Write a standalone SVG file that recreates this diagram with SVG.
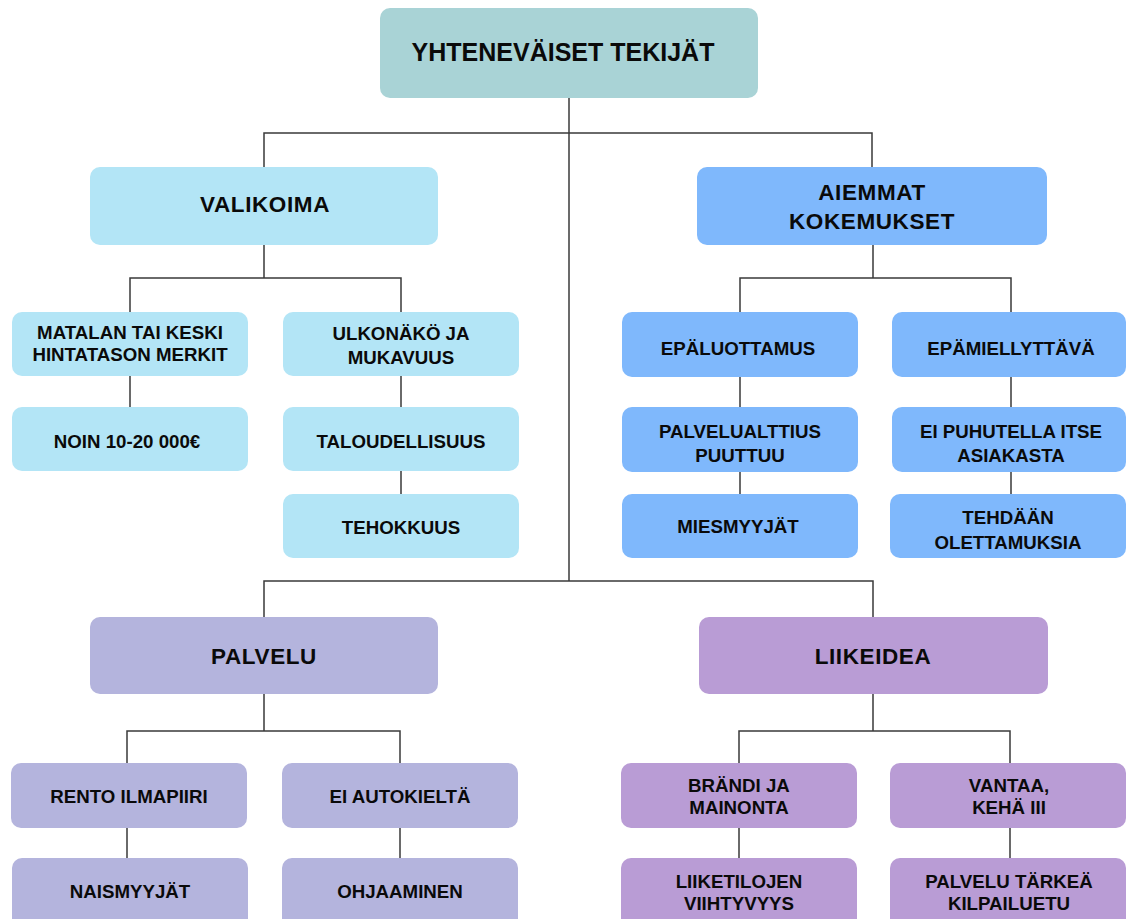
<svg xmlns="http://www.w3.org/2000/svg" width="1127" height="919" viewBox="0 0 1127 919">
  <style>
    .bg { fill: #ffffff; }
    .box { rx: 10; ry: 10; }
    .root { fill: #a9d3d6; }
    .cyan { fill: #b3e5f6; }
    .blue { fill: #7fb8fc; }
    .lav { fill: #b4b4dd; }
    .purp { fill: #b99cd5; }
    text { font-family: "Liberation Sans", Arial, sans-serif; font-weight: bold; fill: #0a0a0a; text-anchor: middle; dominant-baseline: central; }
    .t0 { font-size: 25px; }
    .t1 { font-size: 22.5px; letter-spacing: 0.6px; }
    .t2 { font-size: 18.7px; }
    .wire { fill: none; stroke: #3a3a3a; stroke-width: 1.5; }
  </style>
  <rect class="bg" x="0" y="0" width="1127" height="919"/>

  <!-- connectors -->
  <g id="connectors" class="wire">
    <path d="M569 98 V581"/>
    <path d="M264 167 V133 H872 V167"/>
    <path d="M264 245 V278 M130 312 V278 H401 V312"/>
    <path d="M130 376 V407 M401 376 V407 M401 471 V494"/>
    <path d="M873 245 V278 M740 312 V278 H1011 V312"/>
    <path d="M740 377 V407 M740 472 V494 M1011 377 V407 M1011 472 V494"/>
    <path d="M264 617 V581 H873 V617"/>
    <path d="M264 694 V731 M127 763 V731 H400 V763"/>
    <path d="M127 828 V858 M400 828 V858"/>
    <path d="M873 694 V731 M739 763 V731 H1010 V763"/>
    <path d="M739 828 V858 M1010 828 V858"/>
  </g>

  <!-- root -->
  <g id="root">
    <rect class="box root" x="380" y="8" width="378" height="90"/>
    <text class="t0" x="563" y="52">YHTENEVÄISET TEKIJÄT</text>
  </g>

  <!-- VALIKOIMA branch -->
  <g id="valikoima">
    <rect class="box cyan" x="90" y="167" width="348" height="78"/>
    <text class="t1" x="265" y="204">VALIKOIMA</text>
  </g>
  <g id="matalan">
    <rect class="box cyan" x="12" y="312" width="236" height="64"/>
    <text class="t2" x="130" y="332">MATALAN TAI KESKI</text>
    <text class="t2" x="130" y="354">HINTATASON MERKIT</text>
  </g>
  <g id="noin">
    <rect class="box cyan" x="12" y="407" width="236" height="64"/>
    <text class="t2" x="127" y="441">NOIN 10-20 000€</text>
  </g>
  <g id="ulkonako">
    <rect class="box cyan" x="283" y="312" width="236" height="64"/>
    <text class="t2" x="401" y="333">ULKONÄKÖ JA</text>
    <text class="t2" x="401" y="357">MUKAVUUS</text>
  </g>
  <g id="taloudellisuus">
    <rect class="box cyan" x="283" y="407" width="236" height="64"/>
    <text class="t2" x="401" y="441">TALOUDELLISUUS</text>
  </g>
  <g id="tehokkuus">
    <rect class="box cyan" x="283" y="494" width="236" height="64"/>
    <text class="t2" x="401" y="527">TEHOKKUUS</text>
  </g>

  <!-- AIEMMAT KOKEMUKSET branch -->
  <g id="aiemmat">
    <rect class="box blue" x="697" y="167" width="350" height="78"/>
    <text class="t1" x="872" y="192">AIEMMAT</text>
    <text class="t1" x="872" y="221">KOKEMUKSET</text>
  </g>
  <g id="epaluottamus">
    <rect class="box blue" x="622" y="312" width="236" height="65"/>
    <text class="t2" x="738" y="348">EPÄLUOTTAMUS</text>
  </g>
  <g id="palvelualttius">
    <rect class="box blue" x="622" y="407" width="236" height="65"/>
    <text class="t2" x="740" y="431">PALVELUALTTIUS</text>
    <text class="t2" x="740" y="455">PUUTTUU</text>
  </g>
  <g id="miesmyyjat">
    <rect class="box blue" x="622" y="494" width="236" height="64"/>
    <text class="t2" x="738" y="526">MIESMYYJÄT</text>
  </g>
  <g id="epamiellyttava">
    <rect class="box blue" x="892" y="312" width="234" height="65"/>
    <text class="t2" x="1011" y="348">EPÄMIELLYTTÄVÄ</text>
  </g>
  <g id="puhutella">
    <rect class="box blue" x="892" y="407" width="234" height="65"/>
    <text class="t2" x="1011" y="431">EI PUHUTELLA ITSE</text>
    <text class="t2" x="1011" y="455">ASIAKASTA</text>
  </g>
  <g id="olettamuksia">
    <rect class="box blue" x="890" y="494" width="236" height="64"/>
    <text class="t2" x="1008" y="517">TEHDÄÄN</text>
    <text class="t2" x="1008" y="542">OLETTAMUKSIA</text>
  </g>

  <!-- PALVELU branch -->
  <g id="palvelu">
    <rect class="box lav" x="90" y="617" width="348" height="77"/>
    <text class="t1" x="264" y="656">PALVELU</text>
  </g>
  <g id="rento">
    <rect class="box lav" x="11" y="763" width="236" height="65"/>
    <text class="t2" x="129" y="796">RENTO ILMAPIIRI</text>
  </g>
  <g id="naismyyjat">
    <rect class="box lav" x="12" y="858" width="236" height="70"/>
    <text class="t2" x="130" y="891">NAISMYYJÄT</text>
  </g>
  <g id="autokielta">
    <rect class="box lav" x="282" y="763" width="236" height="65"/>
    <text class="t2" x="400" y="796">EI AUTOKIELTÄ</text>
  </g>
  <g id="ohjaaminen">
    <rect class="box lav" x="282" y="858" width="236" height="70"/>
    <text class="t2" x="400" y="891">OHJAAMINEN</text>
  </g>

  <!-- LIIKEIDEA branch -->
  <g id="liikeidea">
    <rect class="box purp" x="699" y="617" width="349" height="77"/>
    <text class="t1" x="873" y="656">LIIKEIDEA</text>
  </g>
  <g id="brandi">
    <rect class="box purp" x="621" y="763" width="236" height="65"/>
    <text class="t2" x="739" y="785">BRÄNDI JA</text>
    <text class="t2" x="739" y="807">MAINONTA</text>
  </g>
  <g id="liiketilojen">
    <rect class="box purp" x="621" y="858" width="236" height="70"/>
    <text class="t2" x="739" y="881">LIIKETILOJEN</text>
    <text class="t2" x="739" y="903">VIIHTYVYYS</text>
  </g>
  <g id="vantaa">
    <rect class="box purp" x="890" y="763" width="236" height="65"/>
    <text class="t2" x="1009" y="785">VANTAA,</text>
    <text class="t2" x="1009" y="807">KEHÄ III</text>
  </g>
  <g id="kilpailuetu">
    <rect class="box purp" x="890" y="858" width="236" height="70"/>
    <text class="t2" x="1009" y="881">PALVELU TÄRKEÄ</text>
    <text class="t2" x="1009" y="903">KILPAILUETU</text>
  </g>
</svg>
